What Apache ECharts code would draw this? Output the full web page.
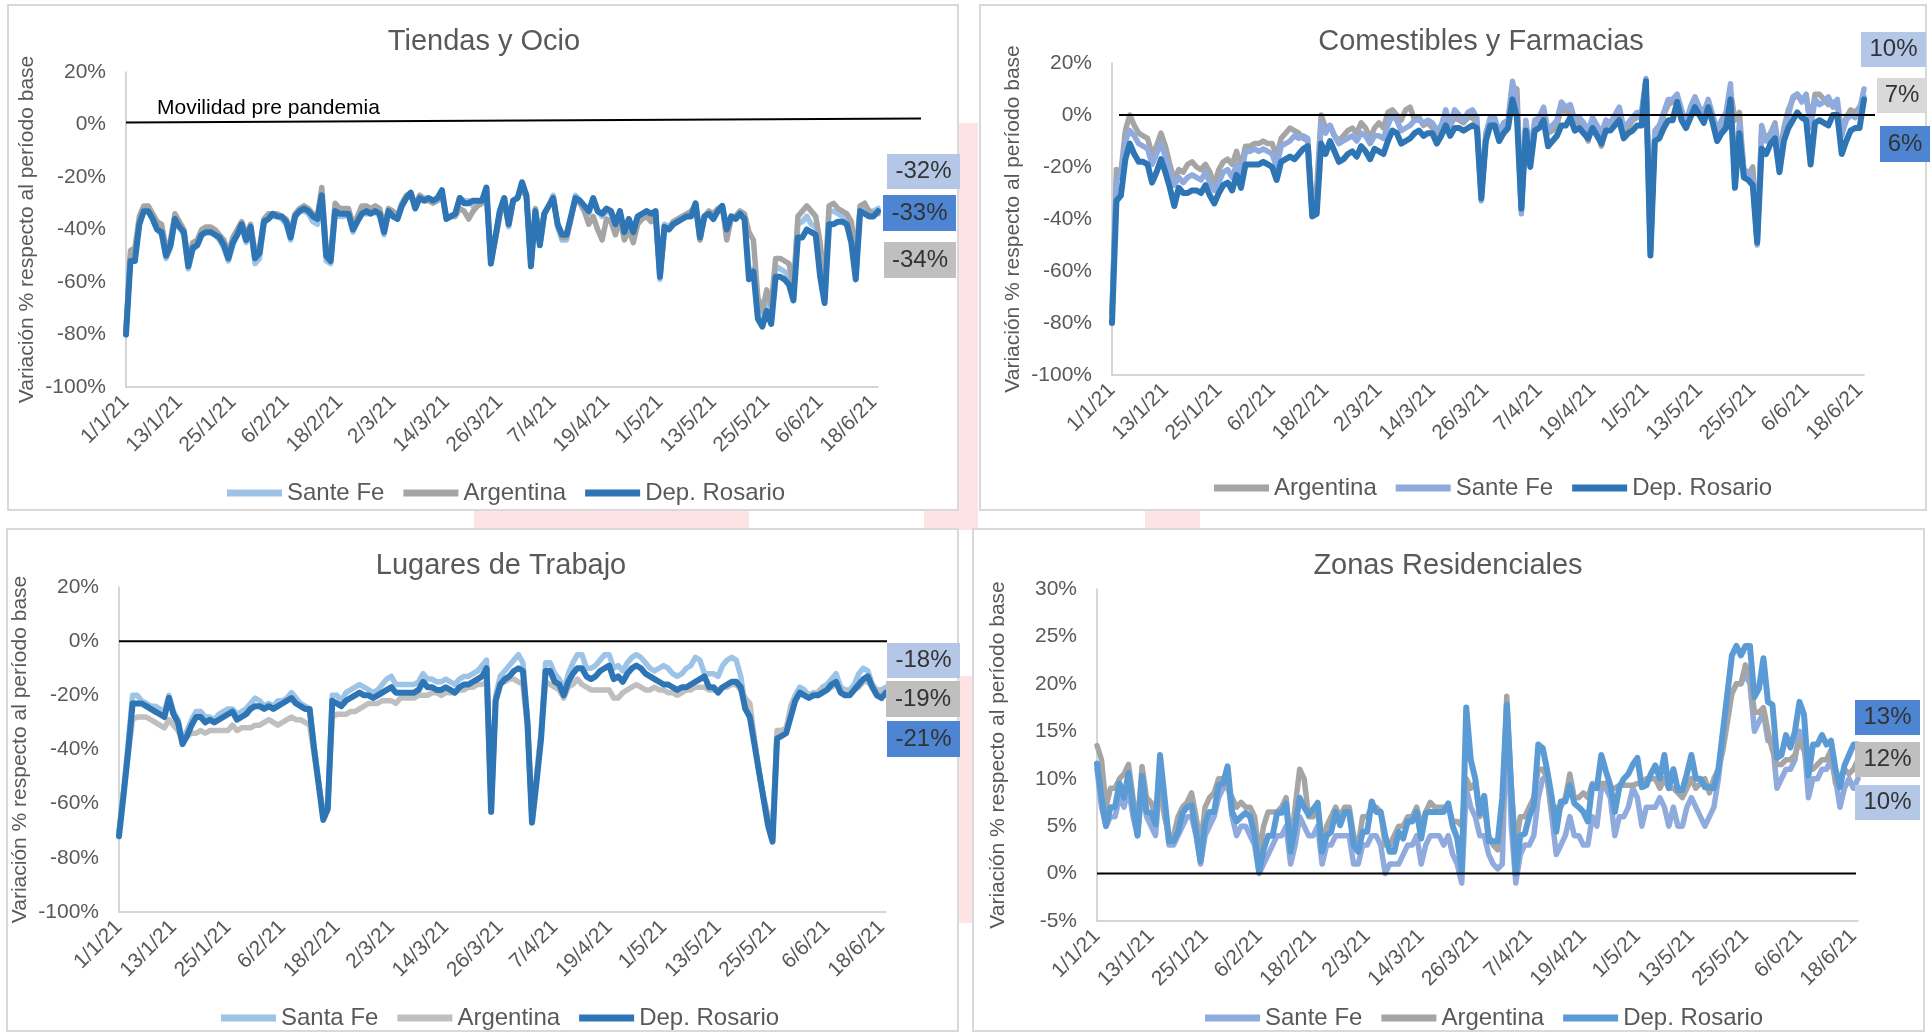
<!DOCTYPE html>
<html><head><meta charset="utf-8">
<script src="https://cdn.jsdelivr.net/npm/echarts@6/dist/echarts.min.js"></script>
<style>html,body{margin:0;padding:0;background:#fff}#c{width:1932px;height:1032px}</style>
</head><body><div id="c"></div>
<script>
// ---------- categories (daily, 1/1/21 .. 19/6/21) ----------
const N_DAYS = 170;
const DATES = [];
for (let i = 0; i < N_DAYS; i++) { const d = new Date(2021, 0, 1 + i); DATES.push(d.getDate() + '/' + (d.getMonth() + 1) + '/21'); }

// ---------- Tiendas y Ocio ----------
const TIENDAS_SANTAFE = [
-79,-50,-51,-37,-33,-33,-36,-40,-42,-51, -47,-36,-39,-42,-55,-48,-46,-42,-41,-41,
-42,-44,-47,-52,-46,-42,-39,-45,-40,-53, -51,-38,-35,-35,-35,-36,-38,-44,-35,-33,
-33,-34,-37,-38,-28,-52,-53,-33,-35,-35, -34,-41,-37,-34,-34,-34,-33,-35,-42,-33,
-35,-36,-31,-28,-27,-31,-27,-28,-28,-29, -28,-26,-36,-35,-34,-28,-29,-29,-31,-31,
-30,-24,-52,-43,-33,-28,-39,-29,-28,-23, -28,-54,-33,-46,-34,-31,-27,-39,-44,-44,
-36,-27,-29,-31,-34,-29,-33,-35,-33,-34, -40,-33,-42,-36,-40,-35,-34,-33,-34,-33,
-59,-38,-39,-37,-36,-35,-35,-34,-30,-44, -35,-33,-35,-33,-31,-41,-35,-35,-33,-35,
-56,-55,-71,-75,-67,-73,-54,-55,-56,-58, -64,-38,-37,-35,-38,-39,-56,-67,-33,-33,
-34,-35,-36,-40,-58,-31,-32,-33,-33,-32];
const TIENDAS_ARGENTINA = [
-78,-48,-47,-35,-31,-31,-34,-37,-38,-47, -44,-34,-37,-40,-52,-45,-44,-40,-39,-39,
-40,-42,-44,-49,-43,-40,-37,-42,-38,-49, -47,-36,-34,-34,-34,-35,-36,-41,-34,-32,
-31,-32,-34,-35,-24,-48,-50,-30,-32,-32, -32,-38,-35,-31,-31,-32,-31,-32,-39,-32,
-33,-35,-30,-27,-26,-31,-27,-29,-29,-30, -29,-27,-35,-35,-35,-32,-33,-36,-33,-31,
-30,-27,-52,-44,-35,-29,-38,-29,-28,-24, -28,-53,-32,-44,-34,-31,-28,-38,-43,-43,
-36,-28,-30,-33,-38,-35,-40,-44,-36,-37, -42,-36,-44,-40,-45,-38,-36,-35,-37,-34,
-57,-40,-40,-37,-36,-35,-34,-33,-31,-44, -35,-33,-34,-32,-31,-44,-36,-35,-33,-34,
-41,-44,-66,-71,-63,-69,-51,-51,-52,-53, -62,-35,-33,-31,-33,-35,-45,-63,-31,-30,
-32,-33,-34,-37,-50,-31,-30,-33,-34,-34];
const TIENDAS_ROSARIO = [
-80,-52,-52,-38,-33,-33,-36,-40,-41,-50, -46,-36,-39,-41,-54,-47,-46,-42,-41,-41,
-42,-43,-46,-51,-45,-42,-38,-44,-39,-51, -49,-37,-36,-34,-35,-35,-37,-43,-35,-33,
-32,-33,-35,-36,-27,-50,-52,-33,-34,-34, -34,-40,-37,-34,-33,-34,-33,-34,-41,-33,
-35,-36,-31,-28,-26,-32,-28,-29,-28,-29, -28,-25,-36,-35,-34,-28,-30,-30,-29,-29,
-29,-24,-53,-43,-33,-28,-38,-29,-28,-22, -27,-54,-33,-46,-34,-31,-28,-38,-42,-42,
-35,-28,-29,-31,-33,-28,-33,-34,-32,-33, -38,-33,-41,-36,-41,-35,-34,-33,-34,-33,
-58,-39,-40,-38,-37,-36,-35,-35,-30,-43, -35,-34,-36,-33,-31,-40,-35,-36,-34,-36,
-59,-56,-74,-77,-71,-76,-58,-58,-59,-61, -67,-43,-43,-40,-41,-42,-58,-68,-38,-38,
-37,-37,-38,-45,-59,-33,-34,-35,-35,-33];
const TIENDAS_LAST = ['-32%', '-33%', '-34%'];

// ---------- Comestibles y Farmacias ----------
const COMESTIBLES_ARGENTINA = [
-76,-21,-22,-6,0,-4,-7,-8,-9,-15, -12,-7,-12,-19,-25,-21,-22,-19,-18,-20,
-21,-19,-22,-27,-21,-18,-17,-19,-14,-20, -12,-12,-11,-11,-10,-11,-11,-16,-9,-7,
-5,-6,-7,-9,-10,-36,-28,0,-5,-4, -8,-10,-8,-6,-5,-7,-3,-5,-9,-5,
-3,-5,1,2,0,-2,2,3,-2,-1, -4,-3,-5,-8,-6,0,-4,-1,-2,-3,
-1,-1,-3,-30,-10,-4,-3,-9,-4,-3, 11,10,-36,-3,-15,-3,-2,1,-7,-6,
-4,3,1,2,-5,-3,-6,-10,-3,-6, -12,-4,-3,-2,0,-8,-5,-2,-1,0,
13,-52,-7,-5,0,4,5,6,1,-4, 1,5,2,0,4,-2,-9,-4,0,9,
-2,1,-22,-23,-20,-47,-6,-9,-7,-3, -16,-5,2,6,8,6,7,-3,8,8,
6,4,5,3,-6,-1,2,1,3,7];
const COMESTIBLES_SANTAFE = [
-76,-25,-23,-10,-6,-8,-11,-12,-13,-19, -15,-11,-16,-22,-27,-24,-26,-24,-23,-24,
-25,-22,-26,-29,-26,-22,-21,-24,-19,-23, -14,-14,-13,-14,-13,-14,-15,-20,-12,-11,
-10,-8,-9,-8,-9,-38,-36,-3,-7,-4, -8,-11,-10,-9,-8,-10,-7,-8,-11,-8,
-8,-9,-4,0,-2,-6,-5,-4,-2,-2, -3,-2,-3,-6,-4,2,-4,2,0,-2,
1,2,-1,-33,-7,-1,-1,-7,-3,-2, 13,4,-38,-2,-16,-2,-1,3,-6,-4,
-2,5,3,4,-2,-1,-3,-6,-1,-4, -7,-2,-3,0,3,-5,-3,-1,1,1,
14,-53,-6,-4,1,6,6,8,2,-3, 3,7,3,1,6,0,-6,-2,1,12,
-27,-3,-21,-22,-25,-50,-4,-10,-8,-4, -18,-6,0,7,8,5,8,-5,6,4,
5,7,3,6,-8,-2,0,-1,2,10];
const COMESTIBLES_ROSARIO = [
-80,-33,-31,-17,-11,-15,-18,-18,-19,-26, -22,-17,-22,-28,-35,-28,-30,-30,-29,-29,
-30,-27,-31,-34,-30,-27,-26,-29,-23,-28, -19,-19,-19,-19,-18,-19,-20,-25,-18,-17,
-16,-17,-15,-13,-12,-39,-38,-11,-15,-10, -14,-18,-17,-15,-14,-16,-12,-14,-17,-13,
-14,-15,-10,-6,-7,-11,-10,-9,-7,-6, -8,-7,-7,-11,-8,-4,-8,-5,-5,-6,
-5,-4,-5,-32,-10,-4,-4,-10,-7,-5, 6,-1,-36,-6,-20,-6,-5,-2,-12,-10,
-8,-4,-4,-1,-6,-5,-7,-9,-5,-8, -11,-6,-6,-4,-2,-9,-7,-6,-4,-4,
13,-54,-10,-9,-5,-2,-2,5,-2,-5, -1,3,0,-3,3,-3,-10,-7,-5,6,
-28,-7,-24,-25,-27,-49,-13,-15,-11,-9, -22,-10,-5,-2,1,-1,-2,-19,-3,-2,
-3,-4,0,0,-15,-10,-6,-5,-5,6];
const COMESTIBLES_LAST = ['10%', '7%', '6%'];

// ---------- Lugares de Trabajo ----------
const TRABAJO_SANTAFE = [
-71,-55,-38,-20,-20,-22,-23,-24,-24,-25, -26,-20,-26,-29,-37,-33,-29,-26,-26,-28,
-28,-29,-27,-26,-25,-25,-27,-26,-25,-23, -21,-22,-24,-23,-24,-22,-22,-21,-19,-21,
-23,-24,-25,-39,-52,-65,-61,-20,-20,-22, -19,-18,-17,-16,-17,-18,-19,-18,-16,-14,
-13,-16,-16,-16,-16,-16,-15,-12,-14,-14, -15,-15,-14,-15,-16,-14,-13,-13,-12,-11,
-9,-7,-62,-20,-13,-11,-9,-7,-5,-8, -29,-66,-50,-34,-8,-8,-12,-14,-18,-12,
-8,-5,-5,-10,-10,-9,-7,-5,-5,-10, -9,-11,-8,-6,-5,-6,-8,-10,-11,-10,
-9,-10,-12,-13,-12,-10,-9,-6,-7,-12, -12,-12,-13,-9,-7,-6,-7,-13,-24,-27,
-37,-48,-57,-66,-73,-34,-33,-33,-24,-20, -17,-18,-20,-19,-19,-17,-16,-14,-12,-17,
-18,-18,-16,-12,-10,-11,-16,-18,-18,-17];
const TRABAJO_ARGENTINA = [
-70,-56,-42,-29,-28,-28,-28,-29,-30,-31, -32,-29,-31,-33,-37,-35,-34,-34,-33,-34,
-33,-33,-33,-33,-33,-31,-33,-32,-32,-32, -31,-31,-30,-29,-30,-31,-30,-29,-28,-29,
-29,-30,-31,-42,-53,-63,-60,-28,-27,-27, -27,-26,-26,-25,-24,-23,-23,-23,-22,-22,
-22,-23,-21,-21,-21,-21,-20,-20,-20,-19, -19,-20,-19,-19,-19,-18,-18,-17,-17,-16,
-16,-15,-61,-21,-15,-15,-14,-14,-15,-16, -32,-65,-50,-34,-15,-16,-17,-18,-21,-17,
-16,-14,-16,-17,-18,-18,-18,-18,-18,-21, -21,-19,-18,-17,-16,-17,-18,-18,-17,-18,
-18,-19,-19,-20,-19,-18,-18,-17,-17,-17, -18,-18,-18,-17,-17,-16,-16,-18,-21,-23,
-36,-48,-58,-64,-70,-33,-33,-32,-25,-21, -19,-20,-20,-20,-19,-18,-18,-17,-16,-18,
-19,-19,-18,-17,-15,-15,-17,-18,-19,-19];
const TRABAJO_ROSARIO = [
-72,-57,-41,-23,-23,-23,-24,-25,-26,-27, -28,-21,-27,-30,-38,-35,-31,-28,-28,-30,
-29,-30,-29,-28,-27,-26,-29,-28,-27,-25, -24,-24,-25,-24,-25,-24,-23,-22,-21,-23,
-24,-25,-25,-40,-53,-66,-62,-22,-23,-24, -22,-21,-20,-19,-20,-20,-21,-20,-19,-18,
-17,-19,-19,-19,-19,-19,-18,-15,-17,-17, -18,-18,-17,-18,-19,-17,-16,-16,-15,-14,
-13,-10,-63,-22,-16,-14,-13,-11,-10,-11, -30,-67,-52,-36,-11,-11,-15,-16,-20,-15,
-12,-10,-10,-13,-14,-13,-11,-10,-9,-14, -13,-15,-12,-10,-9,-10,-12,-13,-14,-15,
-16,-16,-17,-18,-17,-17,-16,-15,-14,-13, -17,-17,-19,-17,-16,-15,-15,-17,-25,-28,
-38,-48,-58,-68,-74,-36,-35,-34,-28,-22, -19,-20,-21,-20,-20,-19,-18,-16,-15,-19,
-20,-20,-18,-16,-14,-13,-17,-20,-21,-19];
const TRABAJO_LAST = ['-18%', '-19%', '-21%'];

// ---------- Zonas Residenciales ----------
const RESIDENCIAL_SANTAFE = [
11,7,5,6,6,8,7,9,6,4, 9,6,5,4,10,7,3,3,4,5,
6,6,4,1,4,5,6,8,9,10, 6,4,5,5,4,3,0,1,2,3,
4,4,5,1,3,6,5,4,4,5, 1,3,3,4,4,4,4,1,1,3,
3,4,4,3,0,1,1,1,2,3, 3,4,1,3,4,4,4,3,4,2,
1,-1,9,7,6,4,4,2,1,0.5, 1,17,5,-1,2,3,3,4,8,10,
10,6,2,3,4,6,4,4,3,3, 6,5,9,9,8,4,6,6,7,9,
8,5,7,7,7,8,7,5,7,5, 5,7,8,7,6,5,6,7,10,14,
17,19,20,20,21,20,15,16,17,14, 14,9,10,11,11,12,15,14,8,10,
10,11,11,12,10,7,9,10,9,10];
const RESIDENCIAL_ARGENTINA = [
13.5,12,7,9,9,10,10.5,11.5,8,5, 11.3,8,7.5,6,9,6,4,4,6,7,
7.5,8.5,6,3,7,8,8.5,10,10,9, 8,7,7.5,7,7,6,2,5,6.5,6.5,
6.5,7,8,3,7,11,10,6,6,7.5, 3,5,6,7,6,7,7,4,3,6,
6,7,7,6.5,3,3,4,5,5,6, 6,7,5,6.5,7.5,7,7,7,7,5.5,
5.5,5,10,9,9.5,6,7,4,3,2.5, 6,18.7,9,3,6,6,7,8,11,11,
10,6.5,7,7,8,10.5,8,8,8.5,8, 9.5,9,9.5,9.5,9,9,9.3,9.3,9.3,9.3,
9.5,9.5,10,10,10,9,10,9,9,8.5, 8,9,10,9,9.5,10,8.5,10,11,13,
16,19,20,20,22,21,17,17,17.5,15, 13,11.5,11.5,12,12,12.5,14,13,11,11,
11.5,12,12,13,9.5,10,11,10.5,11,12];
const RESIDENCIAL_ROSARIO = [
11.6,8,5,7,7,9.5,8,10.6,7,4, 10.3,6.5,6.4,5.2,12.5,8,3.4,3.4,4.4,6.4,
7,7.2,4.4,1.3,5.3,6.5,6.5,9.3,9.5,11.3, 6.5,5.5,6,6.4,6,4,0.2,2.5,4,4,
6.4,6.4,7.4,2.3,5,8,7,6.2,6.8,7.4, 2.3,4,4.4,6.5,5.1,6.5,6.5,3,2.3,4.4,
4.4,7.6,6.5,6.5,4,2.3,2.3,4.4,3.7,5.5, 5.5,6.5,3.7,6.4,6.5,6.5,6.5,6.5,7.4,5,
3.7,0.2,17.5,12,10,6.3,8.2,3.4,3.4,3.4, 8,17.8,9,0,4,4.2,6,7.2,13.6,13.2,
10.8,8,4.4,7.6,7.6,9.3,7.4,7,6.5,5.5, 9.3,9,12.5,10.8,9.3,6.5,9.1,10,10.5,11.5,
12.2,9.1,9.3,10.5,11.4,10,12.5,9,11,8.8, 8.8,10.5,12.5,10,10,9.1,9.1,9,11,15,
19,23,24,23,24,24,18.6,19.5,22.7,18.1, 17.8,12.2,12.5,14.6,13.3,15,18.1,16.8,10.3,13.6,
13.6,14.6,13.6,14,11,9.1,11.4,12.5,13.6,13.6];
const RESIDENCIAL_LAST = ['13%', '12%', '10%'];

// ---------- layout ----------
const FONT = '"Liberation Sans", Arial, sans-serif';
const TXT = '#595959';
const C_LB = '#b4c7e7', C_BL = '#4e85d2', C_GR = '#bfbfbf', C_GL = '#d9d9d9';

const PANELS = [
  { title: 'Tiendas y Ocio', tx: 484, ty: 42,
    grid: { left: 126, top: 72, width: 752, height: 315 }, y: [-100, 20, 20],
    series: [['Sante Fe', TIENDAS_SANTAFE, '#9dc3e6'], ['Argentina', TIENDAS_ARGENTINA, '#a5a5a5'], ['Dep. Rosario', TIENDAS_ROSARIO, '#2e75b6']],
    legend: { left: 222, top: 476 }, zero: [0, 43, -2, -6],
    boxes: [[887, 154, 73, 35, C_LB], [883, 195, 73, 36, C_BL], [884, 242, 72, 36, C_GR]], last: TIENDAS_LAST,
    frame: [8, 5, 950, 505] },
  { title: 'Comestibles y Farmacias', tx: 1481, ty: 42,
    grid: { left: 1112, top: 63, width: 752, height: 312 }, y: [-100, 20, 20],
    series: [['Argentina', COMESTIBLES_ARGENTINA, '#a5a5a5'], ['Sante Fe', COMESTIBLES_SANTAFE, '#8faadc'], ['Dep. Rosario', COMESTIBLES_ROSARIO, '#2e75b6']],
    legend: { left: 1209, top: 471 }, zero: [7, 11, 0, 0],
    boxes: [[1861, 32, 65, 35, C_LB], [1877, 78, 50, 35, C_GL], [1880, 126, 50, 36, C_BL]], last: COMESTIBLES_LAST,
    frame: [980, 5, 946, 505] },
  { title: 'Lugares de Trabajo', tx: 501, ty: 566,
    grid: { left: 119, top: 587, width: 767, height: 325 }, y: [-100, 20, 20],
    series: [['Santa Fe', TRABAJO_SANTAFE, '#9dc3e6'], ['Argentina', TRABAJO_ARGENTINA, '#bfbfbf'], ['Dep. Rosario', TRABAJO_ROSARIO, '#2e75b6']],
    legend: { left: 216, top: 1001 }, zero: [0, 1, 0, 0],
    boxes: [[887, 643, 73, 35, C_LB], [886, 681, 74, 36, C_GR], [887, 721, 73, 36, C_BL]], last: TRABAJO_LAST,
    frame: [7, 529, 951, 502] },
  { title: 'Zonas Residenciales', tx: 1448, ty: 566,
    grid: { left: 1097, top: 589, width: 761, height: 332 }, y: [-5, 30, 5],
    series: [['Sante Fe', RESIDENCIAL_SANTAFE, '#8faadc'], ['Argentina', RESIDENCIAL_ARGENTINA, '#a5a5a5'], ['Dep. Rosario', RESIDENCIAL_ROSARIO, '#5b9bd5']],
    legend: { left: 1200, top: 1001 }, zero: [0, -2, 0, 0],
    boxes: [[1855, 700, 65, 35, C_BL], [1855, 742, 65, 35, C_GR], [1855, 785, 65, 35, C_LB]], last: RESIDENCIAL_LAST,
    frame: [973, 529, 951, 502] }
];

const option = { animation: false, grid: [], xAxis: [], yAxis: [], series: [], legend: [] };
PANELS.forEach((p, i) => {
  option.grid.push(Object.assign({ containLabel: false }, p.grid));
  option.xAxis.push({
    type: 'category', gridIndex: i, data: DATES, boundaryGap: false,
    axisLine: { onZero: false, lineStyle: { color: '#c8c8c8', width: 1.5 } },
    axisTick: { show: false }, splitLine: { show: false },
    axisLabel: { interval: 11, rotate: 45, fontSize: 21, color: TXT, fontFamily: FONT, margin: 12 }
  });
  option.yAxis.push({
    type: 'value', gridIndex: i, min: p.y[0], max: p.y[1], interval: p.y[2],
    axisLine: { show: true, lineStyle: { color: '#c8c8c8', width: 1.5 } },
    axisTick: { show: false }, splitLine: { show: false },
    axisLabel: { formatter: v => v + '%', fontSize: 21, color: TXT, fontFamily: FONT, margin: 20 },
    name: 'Variación % respecto al período base', nameLocation: 'middle', nameGap: 88, nameRotate: 90,
    nameTextStyle: { fontSize: 21, color: TXT, fontFamily: FONT }
  });
  p.series.forEach((s, k) => {
    option.series.push({
      type: 'line', name: s[0], data: s[1], xAxisIndex: i, yAxisIndex: i,
      symbol: 'none', showSymbol: false, silent: true, z: 2 + k,
      lineStyle: { width: k === 2 ? 6 : 5.5, color: s[2], join: 'round', cap: 'round' }, itemStyle: { color: s[2] },
      emphasis: { disabled: true }
    });
  });
  option.legend.push({
    left: p.legend.left, top: p.legend.top, icon: 'rect', itemWidth: 55, itemHeight: 7, itemGap: 19,
    selectedMode: false, textStyle: { fontSize: 24, color: TXT, fontFamily: FONT },
    data: p.series.map(s => ({ name: s[0], itemStyle: { color: s[2] } }))
  });
});

const chart = echarts.init(document.getElementById('c'), null, { renderer: 'canvas' });
chart.setOption(option);

// graphic layer: background, frames, titles, reference lines, end labels
const G = [];
const PINK = '#fde3e3';
[[958, 123, 20, 400], [474, 508, 275, 22], [924, 508, 54, 22], [1145, 508, 55, 22], [958, 676, 16, 247]].forEach(r =>
  G.push({ type: 'rect', z: -20, silent: true, shape: { x: r[0], y: r[1], width: r[2], height: r[3] }, style: { fill: PINK } }));
PANELS.forEach((p, i) => {
  const f = p.frame;
  G.push({ type: 'rect', z: -10, silent: true, shape: { x: f[0], y: f[1], width: f[2], height: f[3] }, style: { fill: '#fff', stroke: '#d9d9d9', lineWidth: 2 } });
  G.push({ type: 'text', z: 20, silent: true, x: p.tx, y: p.ty, style: { text: p.title, font: '29px ' + FONT, fill: TXT, textAlign: 'center', textVerticalAlign: 'middle', align: 'center', verticalAlign: 'middle' } });
  const a = chart.convertToPixel({ xAxisIndex: i, yAxisIndex: i }, [0, 0]);
  const b = chart.convertToPixel({ xAxisIndex: i, yAxisIndex: i }, [N_DAYS - 1, 0]);
  G.push({ type: 'line', z: 15, silent: true, shape: { x1: a[0] + p.zero[0], y1: a[1] + p.zero[2], x2: b[0] + p.zero[1], y2: b[1] + p.zero[3] }, style: { stroke: '#000', lineWidth: 2 } });
  p.boxes.forEach((bx, k) => {
    G.push({ type: 'rect', z: 20, silent: true, shape: { x: bx[0], y: bx[1], width: bx[2], height: bx[3] }, style: { fill: bx[4] } });
    G.push({ type: 'text', z: 21, silent: true, x: bx[0] + bx[2] / 2, y: bx[1] + bx[3] / 2, style: { text: p.last[k], font: '24px ' + FONT, fill: '#333', textAlign: 'center', textVerticalAlign: 'middle', align: 'center', verticalAlign: 'middle' } });
  });
});
{
  const a = chart.convertToPixel({ xAxisIndex: 0, yAxisIndex: 0 }, [0, 0]);
  G.push({ type: 'text', z: 20, silent: true, x: a[0] + 31, y: a[1] - 16, style: { text: 'Movilidad pre pandemia', font: '21px ' + FONT, fill: '#000', textAlign: 'left', textVerticalAlign: 'middle', align: 'left', verticalAlign: 'middle' } });
}
chart.setOption({ graphic: G });
</script>
</body></html>
